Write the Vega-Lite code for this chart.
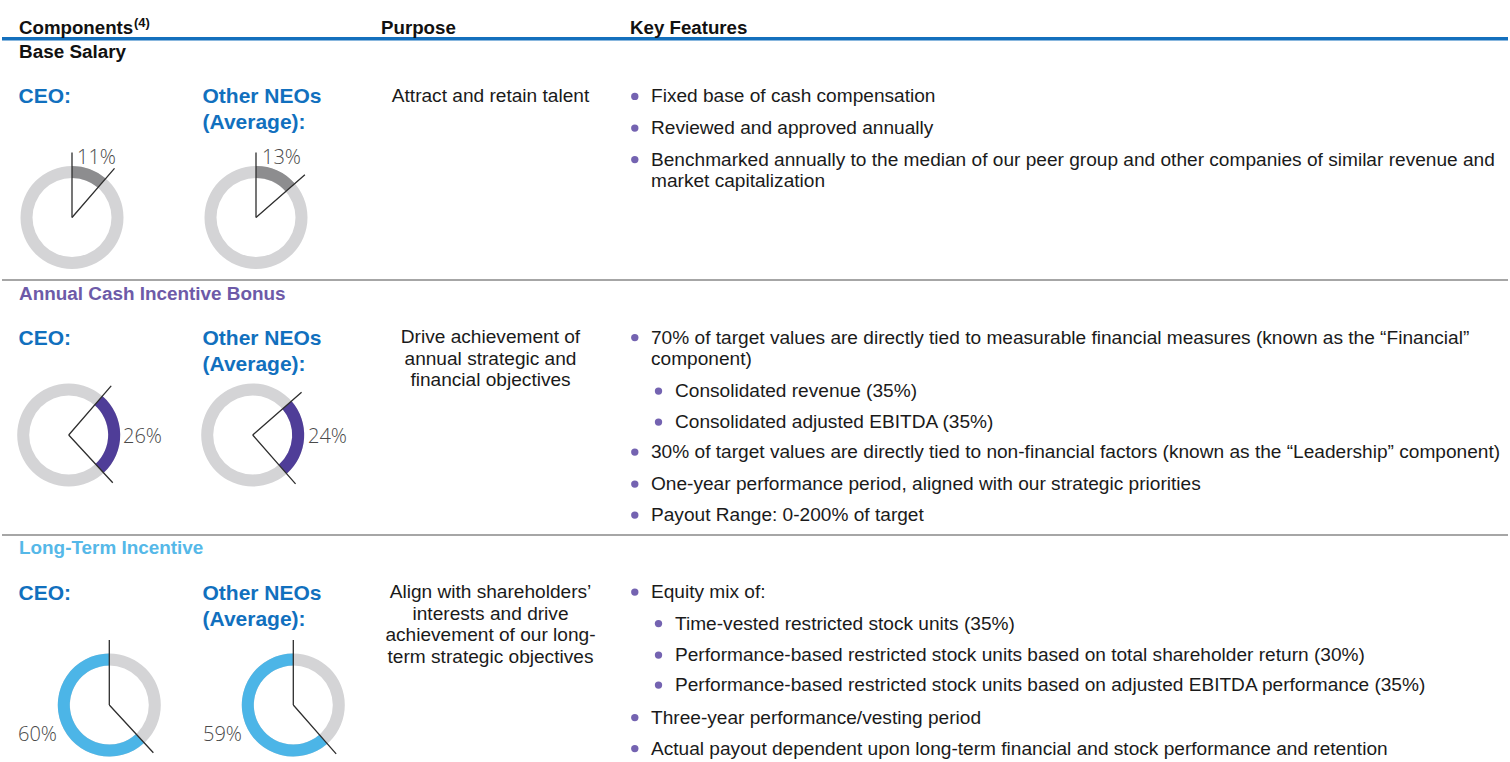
{
  "$schema": "https://vega.github.io/schema/vega-lite/v6.json",
  "width": 1510,
  "height": 762,
  "autosize": {"type": "fit", "contains": "padding"},
  "padding": 0,
  "background": "#ffffff",
  "config": {"view": {"stroke": null}, "text": {"font": "Liberation Sans"}},
  "datasets": {
    "headings": [
      {"col": 1, "text": "Components", "note": "(4)"},
      {"col": 2, "text": "Purpose", "note": ""},
      {"col": 3, "text": "Key Features", "note": ""}
    ],
    "sections": [
      {"sec": 1, "title": "Base Salary", "purpose": "Attract and retain talent"},
      {"sec": 2, "title": "Annual Cash Incentive Bonus", "purpose": "Drive achievement of\nannual strategic and\nfinancial objectives"},
      {"sec": 3, "title": "Long-Term Incentive", "purpose": "Align with shareholders’\ninterests and drive\nachievement of our long-\nterm strategic objectives"}
    ],
    "roles": [
      {"sec": 1, "who": "CEO", "label": "CEO:"},
      {"sec": 1, "who": "NEO", "label": "Other NEOs\n(Average):"},
      {"sec": 2, "who": "CEO", "label": "CEO:"},
      {"sec": 2, "who": "NEO", "label": "Other NEOs\n(Average):"},
      {"sec": 3, "who": "CEO", "label": "CEO:"},
      {"sec": 3, "who": "NEO", "label": "Other NEOs\n(Average):"}
    ],
    "mix": [
      {"sec": 1, "who": "CEO", "component": "Base Salary", "share": 0.11},
      {"sec": 1, "who": "NEO", "component": "Base Salary", "share": 0.13},
      {"sec": 2, "who": "CEO", "component": "Annual Cash Incentive Bonus", "share": 0.26},
      {"sec": 2, "who": "NEO", "component": "Annual Cash Incentive Bonus", "share": 0.24},
      {"sec": 3, "who": "CEO", "component": "Long-Term Incentive", "share": 0.60},
      {"sec": 3, "who": "NEO", "component": "Long-Term Incentive", "share": 0.59}
    ],
    "features": [
      {"n": 1, "sec": 1, "level": 1, "text": "Fixed base of cash compensation"},
      {"n": 2, "sec": 1, "level": 1, "text": "Reviewed and approved annually"},
      {"n": 3, "sec": 1, "level": 1, "text": "Benchmarked annually to the median of our peer group and other companies of similar revenue and\nmarket capitalization"},
      {"n": 4, "sec": 2, "level": 1, "text": "70% of target values are directly tied to measurable financial measures (known as the “Financial”\ncomponent)"},
      {"n": 5, "sec": 2, "level": 2, "text": "Consolidated revenue (35%)"},
      {"n": 6, "sec": 2, "level": 2, "text": "Consolidated adjusted EBITDA (35%)"},
      {"n": 7, "sec": 2, "level": 1, "text": "30% of target values are directly tied to non-financial factors (known as the “Leadership” component)"},
      {"n": 8, "sec": 2, "level": 1, "text": "One-year performance period, aligned with our strategic priorities"},
      {"n": 9, "sec": 2, "level": 1, "text": "Payout Range: 0-200% of target"},
      {"n": 10, "sec": 3, "level": 1, "text": "Equity mix of:"},
      {"n": 11, "sec": 3, "level": 2, "text": "Time-vested restricted stock units (35%)"},
      {"n": 12, "sec": 3, "level": 2, "text": "Performance-based restricted stock units based on total shareholder return (30%)"},
      {"n": 13, "sec": 3, "level": 2, "text": "Performance-based restricted stock units based on adjusted EBITDA performance (35%)"},
      {"n": 14, "sec": 3, "level": 1, "text": "Three-year performance/vesting period"},
      {"n": 15, "sec": 3, "level": 1, "text": "Actual payout dependent upon long-term financial and stock performance and retention"}
    ]
  },
  "resolve": {"scale": {"x": "independent", "y": "independent", "xOffset": "independent", "color": "independent", "size": "independent", "theta": "independent", "radius": "independent"}},
  "layer": [
    {
      "data": {"name": "sections"},
      "mark": {"type": "rule"},
      "encoding": {
        "y": {"field": "sec", "type": "quantitative", "axis": null, "scale": {"domain": [1, 2, 3], "range": [38.7, 280, 535]}},
        "color": {"field": "sec", "type": "ordinal", "legend": null, "scale": {"domain": [1, 2, 3], "range": ["#1470bd", "#a6a6a6", "#a6a6a6"]}},
        "size": {"field": "sec", "type": "quantitative", "legend": null, "scale": {"domain": [1, 2, 3], "range": [3.5, 2, 2]}}
      }
    },
    {
      "data": {"name": "headings"},
      "mark": {"type": "text", "align": "left", "baseline": "alphabetic", "fontSize": 18.7, "fontWeight": "bold", "fill": "#111111"},
      "encoding": {
        "x": {"field": "col", "type": "quantitative", "axis": null, "scale": {"domain": [1, 2, 3], "range": [17, 379, 628]}},
        "y": {"field": "col", "type": "quantitative", "axis": null, "scale": {"domain": [1, 3], "range": [34, 34]}},
        "text": {"field": "text"}
      }
    },
    {
      "data": {"name": "headings"},
      "transform": [{"filter": "datum.note != ''"}],
      "mark": {"type": "text", "align": "left", "baseline": "alphabetic", "fontSize": 13, "fontWeight": "bold", "fill": "#111111"},
      "encoding": {
        "x": {"field": "col", "type": "quantitative", "axis": null, "scale": {"domain": [1, 3], "range": [132, 132]}},
        "y": {"field": "col", "type": "quantitative", "axis": null, "scale": {"domain": [1, 3], "range": [26.5, 26.5]}},
        "text": {"field": "note"}
      }
    },
    {
      "data": {"name": "sections"},
      "mark": {"type": "text", "align": "left", "baseline": "alphabetic", "fontSize": 18.9, "fontWeight": "bold"},
      "encoding": {
        "x": {"field": "sec", "type": "quantitative", "axis": null, "scale": {"domain": [1, 3], "range": [17, 17]}},
        "y": {"field": "sec", "type": "quantitative", "axis": null, "scale": {"domain": [1, 2, 3], "range": [57.6, 300, 554.3]}},
        "color": {"field": "sec", "type": "ordinal", "legend": null, "scale": {"domain": [1, 2, 3], "range": ["#111111", "#6d5aa8", "#55b8e8"]}},
        "text": {"field": "title"}
      }
    },
    {
      "data": {"name": "sections"},
      "mark": {"type": "text", "align": "center", "baseline": "alphabetic", "fontSize": 19.1, "lineBreak": "\n", "lineHeight": 21.5, "fill": "#1a1a1a"},
      "encoding": {
        "x": {"field": "sec", "type": "quantitative", "axis": null, "scale": {"domain": [1, 3], "range": [488.5, 488.5]}},
        "y": {"field": "sec", "type": "quantitative", "axis": null, "scale": {"domain": [1, 2, 3], "range": [102.3, 343, 598]}},
        "text": {"field": "purpose"}
      }
    },
    {
      "data": {"name": "roles"},
      "mark": {"type": "text", "align": "left", "baseline": "alphabetic", "fontSize": 21, "fontWeight": "bold", "lineBreak": "\n", "lineHeight": 26, "fill": "#1170be"},
      "encoding": {
        "x": {"field": "who", "type": "nominal", "axis": null, "scale": {"type": "point", "domain": ["CEO", "NEO"], "range": [16.5, 200.5], "padding": 0}},
        "y": {"field": "sec", "type": "quantitative", "axis": null, "scale": {"domain": [1, 2, 3], "range": [102.5, 345, 600]}},
        "text": {"field": "label"}
      }
    },
    {
      "data": {"name": "features"},
      "mark": {"type": "text", "align": "left", "baseline": "alphabetic", "fontSize": 19.1, "lineBreak": "\n", "lineHeight": 21, "fill": "#1a1a1a"},
      "encoding": {
        "x": {"field": "level", "type": "quantitative", "axis": null, "scale": {"domain": [1, 2], "range": [649, 673]}},
        "y": {"field": "n", "type": "quantitative", "axis": null, "scale": {"domain": [1, 2, 3, 4, 5, 6, 7, 8, 9, 10, 11, 12, 13, 14, 15], "range": [102.3, 134, 165.5, 343.5, 397, 428, 458, 490, 521, 598, 629.5, 661, 691, 723.5, 754.5]}},
        "text": {"field": "text"}
      }
    },
    {
      "data": {"name": "features"},
      "mark": {"type": "point", "filled": true, "size": 54, "color": "#7463b1", "opacity": 1},
      "encoding": {
        "x": {"field": "level", "type": "quantitative", "axis": null, "scale": {"domain": [1, 2], "range": [632.8, 656.5]}},
        "y": {"field": "n", "type": "quantitative", "axis": null, "scale": {"domain": [1, 2, 3, 4, 5, 6, 7, 8, 9, 10, 11, 12, 13, 14, 15], "range": [96.4, 128.1, 159.6, 337.6, 391.1, 422.1, 452.1, 484.1, 515.1, 592.1, 623.6, 655.1, 685.1, 717.6, 748.6]}}
      }
    },
    {
      "data": {"name": "mix"},
      "mark": {"type": "arc", "radius": 51.5, "radius2": 39.5, "color": "#d4d4d6"},
      "encoding": {
        "x": {"field": "who", "type": "nominal", "axis": null, "scale": {"type": "point", "domain": ["CEO", "NEO"], "range": [70, 254], "padding": 0}},
        "xOffset": {"field": "sec", "type": "quantitative", "scale": {"domain": [1, 2, 3], "range": [0, -3.3, 37.3]}},
        "y": {"field": "sec", "type": "quantitative", "stack": null, "axis": null, "scale": {"domain": [1, 2, 3], "range": [217.5, 435, 705]}}
      }
    },
    {
      "data": {"name": "mix"},
      "transform": [{"stack": "share", "groupby": ["who"], "sort": [{"field": "sec", "order": "ascending"}], "offset": "normalize", "as": ["start", "end"]}],
      "mark": {"type": "arc", "radius": 51.5, "radius2": 39.5},
      "encoding": {
        "x": {"field": "who", "type": "nominal", "axis": null, "scale": {"type": "point", "domain": ["CEO", "NEO"], "range": [70, 254], "padding": 0}},
        "xOffset": {"field": "sec", "type": "quantitative", "scale": {"domain": [1, 2, 3], "range": [0, -3.3, 37.3]}},
        "y": {"field": "sec", "type": "quantitative", "stack": null, "axis": null, "scale": {"domain": [1, 2, 3], "range": [217.5, 435, 705]}},
        "theta": {"field": "start", "type": "quantitative", "stack": null, "scale": {"domain": [0, 1], "range": [0, 6.283185307]}},
        "theta2": {"field": "end"},
        "color": {"field": "component", "type": "nominal", "legend": null, "scale": {"domain": ["Base Salary", "Annual Cash Incentive Bonus", "Long-Term Incentive"], "range": ["#8d8d8f", "#4f3d98", "#4cb5e7"]}}
      }
    },
    {
      "data": {"name": "mix"},
      "transform": [{"stack": "share", "groupby": ["who"], "sort": [{"field": "sec", "order": "ascending"}], "offset": "normalize", "as": ["start", "end"]}],
      "mark": {"type": "arc", "radius": 65, "radius2": 0, "filled": false, "stroke": "#2e2e2e", "strokeWidth": 1.3},
      "encoding": {
        "x": {"field": "who", "type": "nominal", "axis": null, "scale": {"type": "point", "domain": ["CEO", "NEO"], "range": [70, 254], "padding": 0}},
        "xOffset": {"field": "sec", "type": "quantitative", "scale": {"domain": [1, 2, 3], "range": [0, -3.3, 37.3]}},
        "y": {"field": "sec", "type": "quantitative", "stack": null, "axis": null, "scale": {"domain": [1, 2, 3], "range": [217.5, 435, 705]}},
        "theta": {"field": "start", "type": "quantitative", "stack": null, "scale": {"domain": [0, 1], "range": [0, 6.283185307]}},
        "theta2": {"field": "start"}
      }
    },
    {
      "data": {"name": "mix"},
      "transform": [{"stack": "share", "groupby": ["who"], "sort": [{"field": "sec", "order": "ascending"}], "offset": "normalize", "as": ["start", "end"]}],
      "mark": {"type": "arc", "radius": 65, "radius2": 0, "filled": false, "stroke": "#2e2e2e", "strokeWidth": 1.3},
      "encoding": {
        "x": {"field": "who", "type": "nominal", "axis": null, "scale": {"type": "point", "domain": ["CEO", "NEO"], "range": [70, 254], "padding": 0}},
        "xOffset": {"field": "sec", "type": "quantitative", "scale": {"domain": [1, 2, 3], "range": [0, -3.3, 37.3]}},
        "y": {"field": "sec", "type": "quantitative", "stack": null, "axis": null, "scale": {"domain": [1, 2, 3], "range": [217.5, 435, 705]}},
        "theta": {"field": "end", "type": "quantitative", "stack": null, "scale": {"domain": [0, 1], "range": [0, 6.283185307]}},
        "theta2": {"field": "end"}
      }
    },
    {
      "data": {"name": "mix"},
      "mark": {"type": "text", "align": "left", "baseline": "alphabetic", "font": "Open Sans", "fontWeight": 300, "fontSize": 20, "fill": "#4a4a4a"},
      "encoding": {
        "x": {"field": "who", "type": "nominal", "axis": null, "scale": {"type": "point", "domain": ["CEO", "NEO"], "range": [0, 185], "padding": 0}},
        "xOffset": {"field": "sec", "type": "quantitative", "scale": {"domain": [1, 2, 3], "range": [75, 121, 16]}},
        "y": {"field": "sec", "type": "quantitative", "axis": null, "scale": {"domain": [1, 2, 3], "range": [164, 442.5, 741]}},
        "text": {"field": "share", "type": "quantitative", "format": ".0%"}
      }
    }
  ]
}
